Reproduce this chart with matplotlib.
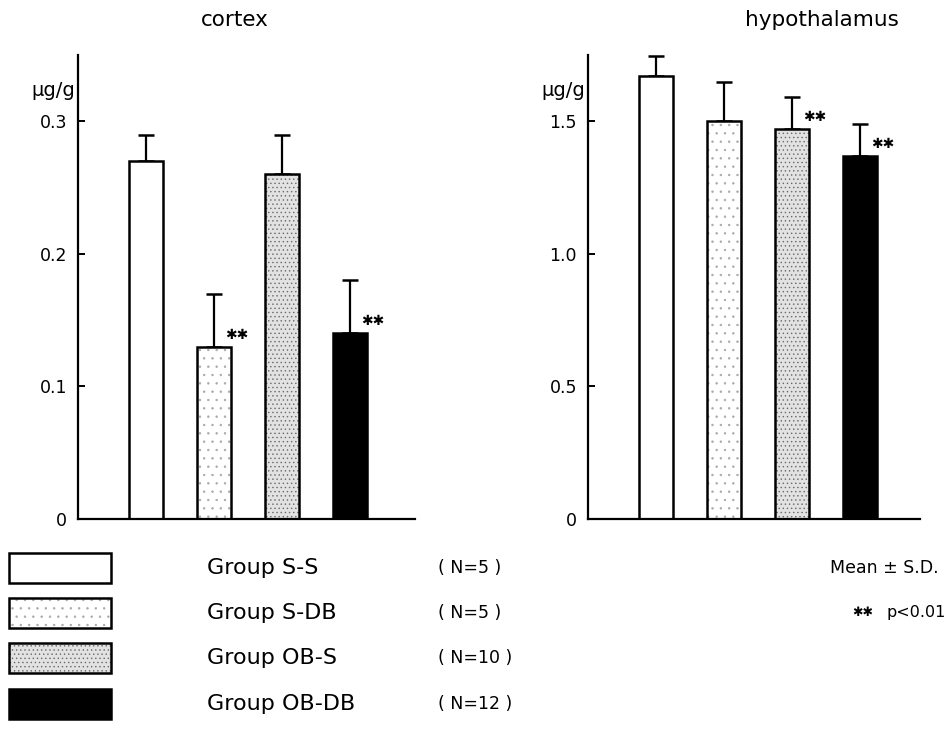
import matplotlib
matplotlib.use("Agg")
import matplotlib.pyplot as plt
from matplotlib.patches import Rectangle

plt.rcParams['font.family'] = ['DejaVu Sans']
plt.rcParams['hatch.linewidth'] = 0.5

groups = ["Group S-S", "Group S-DB", "Group OB-S", "Group OB-DB"]
group_n = ["( N=5 )", "( N=5 )", "( N=10 )", "( N=12 )"]

cortex_mean = [0.27, 0.13, 0.26, 0.14]
cortex_sd = [0.02, 0.04, 0.03, 0.04]
cortex_sig = [False, True, False, True]

hypo_mean = [1.67, 1.50, 1.47, 1.37]
hypo_sd = [0.075, 0.15, 0.12, 0.12]
hypo_sig = [False, False, True, True]

cortex_ticks = [0, 0.1, 0.2, 0.3]
cortex_ticklabels = ["0", "0.1", "0.2", "0.3"]
hypo_ticks = [0, 0.5, 1.0, 1.5]
hypo_ticklabels = ["0", "0.5", "1.0", "1.5"]

facecolors = ["white", "white", "#e2e2e2", "black"]
hatches = [None, "..", "....", None]
hatchcolors = ["black", "#a8a8a8", "#6a6a6a", "black"]

W, H = 949, 733
fig = plt.figure(figsize=(W / 100, H / 100), dpi=100)


def px(x, y):
    return x / W, 1 - y / H


def panel(left_px, right_px, title, title_x, means, sds, sig, ymax, ticks, ticklabels):
    x0, y0 = px(left_px, 519)
    x1, y1 = px(right_px, 55)
    ax = fig.add_axes([x0, y0, x1 - x0, y1 - y0])
    pos = [1, 2, 3, 4]
    # fill + hatch layer (hatch drawn in grey)
    fill = ax.bar(pos, means, width=0.5, color=facecolors, edgecolor=hatchcolors,
                  linewidth=0, zorder=2)
    for b, h in zip(fill, hatches):
        if h:
            b.set_hatch(h)
    # outline layer
    ax.bar(pos, means, width=0.5, color="none", edgecolor="black",
           linewidth=1.8, zorder=3)
    ax.errorbar(pos, means, yerr=[[0] * 4, sds], fmt="none", ecolor="black",
                elinewidth=1.6, capsize=6, capthick=1.8, zorder=1)
    for p, m, s in zip(pos, means, sig):
        if s:
            ax.annotate("✱✱", (p, m), xytext=(23, 12), textcoords="offset pixels",
                        ha="center", va="center", fontsize=10, fontweight="bold")
    ax.set_xlim(0, (right_px - left_px) / 68)
    ax.set_ylim(0, ymax)
    ax.spines["top"].set_visible(False)
    ax.spines["right"].set_visible(False)
    ax.spines["left"].set_linewidth(1.6)
    ax.spines["bottom"].set_linewidth(1.6)
    ax.set_xticks([])
    ax.set_yticks(ticks)
    ax.set_yticklabels(ticklabels, fontsize=12.5)
    ax.tick_params(axis="y", direction="in", length=5, width=1.4, pad=8)
    fx, fy = px(left_px - 3, 90)
    fig.text(fx, fy, "µg/g", ha="right", va="center", fontsize=14)
    tx, ty = px(title_x, 20)
    fig.text(tx, ty, title, ha="center", va="center", fontsize=15.5)
    return ax


panel(78, 415, "cortex", 235, cortex_mean, cortex_sd, cortex_sig, 0.35,
      cortex_ticks, cortex_ticklabels)
panel(588, 920, "hypothalamus", 822, hypo_mean, hypo_sd, hypo_sig, 1.75,
      hypo_ticks, hypo_ticklabels)

# legend
rows_y = [568, 613, 658, 704]
for i, (g, n) in enumerate(zip(groups, group_n)):
    cy = rows_y[i]
    bx, by = px(9, cy + 15)
    bw = 102 / W
    bh = 30 / H
    r = Rectangle((bx, by), bw, bh, transform=fig.transFigure,
                  facecolor=facecolors[i], edgecolor=hatchcolors[i], linewidth=0,
                  hatch=hatches[i])
    fig.patches.append(r)
    r2 = Rectangle((bx, by), bw, bh, transform=fig.transFigure,
                   facecolor="none", edgecolor="black", linewidth=1.8)
    fig.patches.append(r2)
    gx, gy = px(207, cy)
    fig.text(gx, gy, g, ha="left", va="center", fontsize=16)
    nx, ny = px(438, cy)
    fig.text(nx, ny, n, ha="left", va="center", fontsize=12.5)

mx, my = px(830, 568)
fig.text(mx, my, "Mean ± S.D.", ha="left", va="center", fontsize=12.5)
sx, sy = px(852, 613)
fig.text(sx, sy, "✱✱", ha="left", va="center", fontsize=9, fontweight="bold")
px2, py2 = px(946, 613)
fig.text(px2, py2, "p<0.01", ha="right", va="center", fontsize=11.5)

fig.savefig("out.png", dpi=100)
